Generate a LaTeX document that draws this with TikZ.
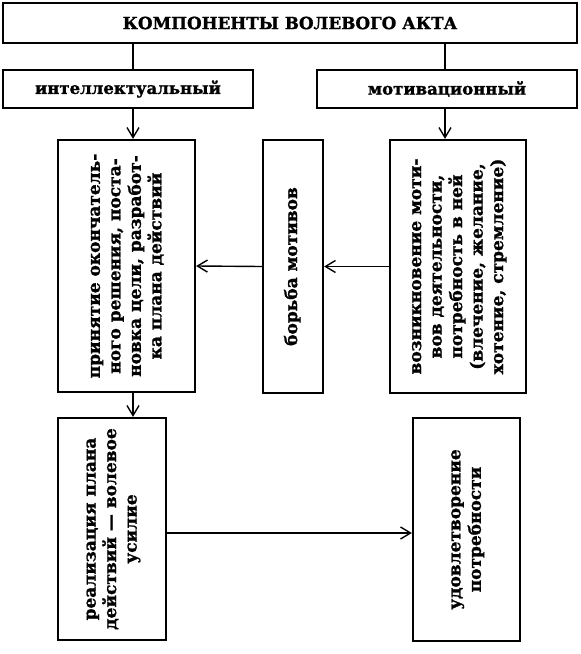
\documentclass[tikz,border=0pt]{standalone}
\usepackage{fontspec}
\setmainfont{DejaVu Serif}[BoldFeatures={FakeBold=1.3}]
\usetikzlibrary{arrows.meta,positioning,calc}
\newcommand{\vtext}[1]{\rotatebox{90}{\begin{tabular}{@{}c@{}}#1\end{tabular}}}

\begin{document}
\begin{tikzpicture}[x=1pt, y=-1pt, >={Straight Barb[length=10pt,width=12pt,line width=1.4pt]},
  box/.style={draw, line width=2.2pt, inner sep=0pt, align=center,
    font=\bfseries\fontsize{17}{20.5}\selectfont},
  head/.style={box, font=\bfseries\fontsize{16.5}{19}\selectfont},
  link/.style={line width=1.4pt}]
\useasboundingbox (0,0) rectangle (581,654);
\node[head, minimum width=574, minimum height=40,
  font=\bfseries\fontsize{16.8}{19}\selectfont] (title) at (290,23) {КОМПОНЕНТЫ ВОЛЕВОГО АКТА};
\node[head, minimum width=250, minimum height=38] (intel) at (128,89) {интеллектуальный};
\node[head, minimum width=260, minimum height=38] (motiv) at (447,89) {мотивационный};
\node[box, minimum width=137, minimum height=252] (dec) at (126.5,266)
  {\vtext{принятие окончатель-\\ного решения, поста-\\новка цели, разработ-\\ка плана действий}};
\node[box, minimum width=60, minimum height=253] (fight) at (293,266.5)
  {\vtext{борьба мотивов}};
\node[box, minimum width=136, minimum height=253] (need) at (458,266.5)
  {\vtext{возникновение моти-\\вов деятельности,\\потребность в ней\\(влечение, желание,\\хотение, стремление)}};
\node[box, minimum width=108, minimum height=222] (real) at (112,529)
  {\vtext{реализация плана\\действий --- волевое\\усилие}};
\node[box, minimum width=107, minimum height=223] (sat) at (466.5,529.5)
  {\vtext{удовлетворение\\потребности}};
% vertical links
\coordinate (lx) at (133,0);
\coordinate (rx) at (445,0);
\draw[link] (title.south -| lx) -- (intel.north -| lx);
\draw[link] (title.south -| rx) -- (motiv.north -| rx);
\draw[link,->] (intel.south -| lx) -- (dec.north -| lx);
\draw[link,->] (motiv.south -| rx) -- (need.north -| rx);
\draw[link,->] (dec.south -| lx) -- (real.north -| lx);
% horizontal links
\draw[link,->] (need.west) -- (fight.east);
\draw[link,->] (fight.west) -- (dec.east);
\draw[link,->] (real.east |- 0,533) -- (sat.west |- 0,533);
\end{tikzpicture}
\end{document}
